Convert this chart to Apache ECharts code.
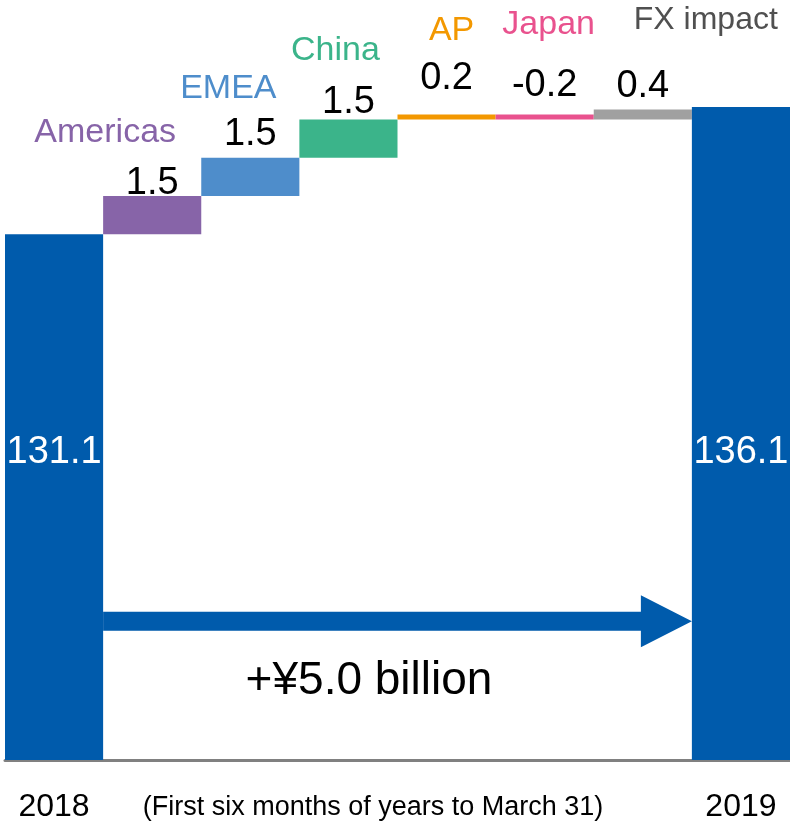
<!DOCTYPE html>
<html>
<head>
<meta charset="utf-8">
<script src="https://cdn.jsdelivr.net/npm/echarts@6/dist/echarts.min.js"></script>
<style>
html,body{margin:0;padding:0;background:#fff;}
#main{width:790px;height:823px;}
</style>
</head>
<body>
<div id="main"></div>
<script>
// ---- data ----
const categories = ['2018', 'Americas', 'EMEA', 'China', 'AP', 'Japan', 'FX impact', '2019'];
const startTotal = 131.1;
const endTotal = 136.1;
const changes = [1.5, 1.5, 1.5, 0.2, -0.2, 0.4];
const netChangeText = '+¥5.0 billion';
const periodNote = '(First six months of years to March 31)';

// ---- styling / layout ----
const FONT = '"Liberation Sans", Arial, sans-serif';
const totalColor = '#005BAC';
const segColors = ['#8764A8', '#4E8DCB', '#3BB48A', '#F39800', '#E9528E', '#A0A0A0'];
const nameColors = ['#8764A8', '#4E8DCB', '#3BB48A', '#F39800', '#E9528E', '#505050'];
const nameFontSizes = [34, 34, 34, 34, 34, 32];
const valueLift = [0, 11, 5, 24, 17, 11];            // px above bar top (baseline)
const nameNudge = [[-47, 52], [-22, 58], [-13, 57], [5, 72], [4, 78], [63, 79]];
const AXIS_MIN = 110.45, AXIS_MAX = 136.37;
const ARROW_LEVEL = 115.9;

const chart = echarts.init(document.getElementById('main'), null, {renderer: 'canvas'});

const last = categories.length - 1;
const baseData = ['-'];
const deltaData = [];
const nameData = [];
const totalLabel = {
  show: true, position: 'insideBottom', distance: 288,
  color: '#fff', fontSize: 38, fontFamily: FONT,
  formatter: p => p.value.toFixed(1)
};
deltaData.push({value: startTotal, itemStyle: {color: totalColor}, label: totalLabel});
let running = startTotal;
changes.forEach((c, i) => {
  const lo = Math.min(running, running + c);
  const hi = Math.max(running, running + c);
  baseData.push(+lo.toFixed(2));
  deltaData.push({
    value: +Math.abs(c).toFixed(2),
    itemStyle: {color: segColors[i]},
    label: {
      show: true, position: 'top', distance: 0,
      offset: [0, 7 - valueLift[i]],
      color: '#000', fontSize: 38, fontFamily: FONT,
      formatter: () => c.toFixed(1)
    }
  });
  nameData.push({
    value: [i + 1, +hi.toFixed(2)],
    label: {
      show: true, position: 'top', distance: 0,
      offset: [nameNudge[i][0], 6 - nameNudge[i][1]],
      color: nameColors[i], fontSize: nameFontSizes[i], fontFamily: FONT,
      opacity: 1,
      formatter: () => categories[i + 1]
    }
  });
  running += c;
});
baseData.push('-');
deltaData.push({value: endTotal, itemStyle: {color: totalColor}, label: totalLabel});

chart.setOption({
  animation: false,
  grid: {left: 5, right: 0, top: 100, bottom: 62},
  xAxis: {
    type: 'category',
    data: categories,
    axisLine: {show: true, lineStyle: {color: '#808080', width: 3}},
    axisTick: {show: false},
    axisLabel: {
      interval: (idx) => idx === 0 || idx === last,
      color: '#000', fontSize: 32, fontFamily: FONT, margin: 31
    }
  },
  yAxis: {
    type: 'value', min: AXIS_MIN, max: AXIS_MAX,
    show: false, splitLine: {show: false}
  },
  series: [
    {
      type: 'bar', stack: 'w', data: baseData,
      itemStyle: {color: 'rgba(0,0,0,0)'},
      barCategoryGap: '0%', silent: true
    },
    {
      type: 'bar', stack: 'w', data: deltaData,
      barCategoryGap: '0%', silent: true
    },
    {
      type: 'scatter', data: nameData, symbolSize: 1,
      itemStyle: {color: 'rgba(0,0,0,0)', opacity: 1}, silent: true, z: 5
    }
  ]
});

// annotation: arrow and texts, positioned from the axes
const p0 = chart.convertToPixel({gridIndex: 0}, [0, ARROW_LEVEL]);
const pN = chart.convertToPixel({gridIndex: 0}, [last, ARROW_LEVEL]);
const band = (pN[0] - p0[0]) / last;
const x1 = p0[0] + band / 2;
const x2 = pN[0] - band / 2;
const y = p0[1];
const headLen = 51, headHalf = 26, shaftHalf = 9.5;
const bottomY = chart.convertToPixel({gridIndex: 0}, [0, AXIS_MIN])[1];

chart.setOption({
  graphic: [
    {
      type: 'polygon', silent: true, z: 10,
      shape: {points: [
        [x1, y - shaftHalf], [x2 - headLen, y - shaftHalf], [x2 - headLen, y - headHalf],
        [x2, y], [x2 - headLen, y + headHalf], [x2 - headLen, y + shaftHalf], [x1, y + shaftHalf]
      ]},
      style: {fill: totalColor}
    },
    {
      type: 'text', silent: true, z: 10,
      style: {
        text: netChangeText, x: 369, y: y + 60,
        font: '46px ' + FONT, fill: '#000',
        align: 'center', verticalAlign: 'middle',
        textAlign: 'center', textVerticalAlign: 'middle'
      }
    },
    {
      type: 'text', silent: true, z: 10,
      style: {
        text: periodNote, x: 373, y: bottomY + 48,
        font: '27px ' + FONT, fill: '#000',
        align: 'center', verticalAlign: 'middle',
        textAlign: 'center', textVerticalAlign: 'middle'
      }
    }
  ]
});
</script>
</body>
</html>
